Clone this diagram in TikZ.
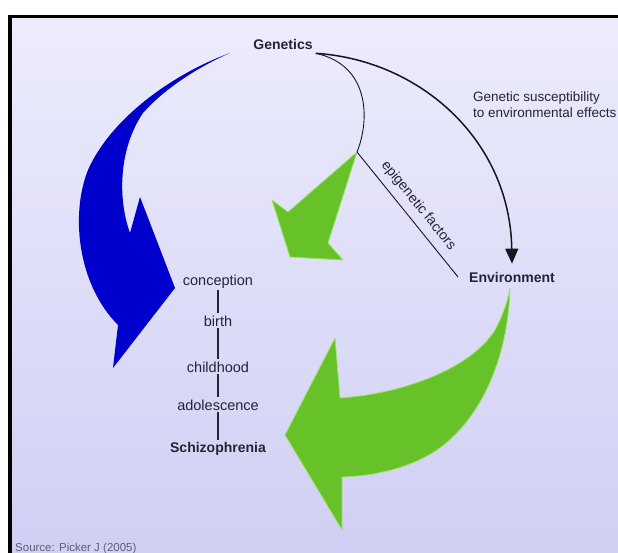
\documentclass[tikz,border=0pt]{standalone}
\usepackage{fontspec}
\setmainfont{Liberation Sans}
\usetikzlibrary{arrows.meta}
\definecolor{bgtop}{RGB}{236,236,252}
\definecolor{bgbottom}{RGB}{208,207,244}
\definecolor{arrowblue}{RGB}{0,0,205}
\definecolor{arrowgreen}{RGB}{102,194,40}
\definecolor{greenrim}{RGB}{160,225,110}
\definecolor{labeltext}{RGB}{36,36,52}
\definecolor{sourcetext}{RGB}{95,95,115}

\begin{document}
\begin{tikzpicture}[x=1pt, y=-1pt, line join=round,
    lbl/.style={text=labeltext, inner sep=3pt, font=\fontsize{14}{16}\selectfont},
    boldlbl/.style={lbl, font=\fontsize{14}{16}\selectfont\bfseries},
    stage/.style={lbl, inner sep=2pt, font=\fontsize{14.5}{16}\selectfont},
    stagebar/.style={draw=labeltext, line width=1.6pt},
    greenarrow/.style={fill=arrowgreen, draw=greenrim, line width=0.8pt}]
    \useasboundingbox (0,0) rectangle (618,553);
    \fill[black] (8,15) rectangle (618,553);
    \shade[top color=bgtop, bottom color=bgbottom] (12,19) rectangle (618,553);

    \coordinate (epi) at (357,152);

    \fill[arrowblue] (230,53) .. controls (170,75) and (110,120) .. (88,170)
        .. controls (70,215) and (78,285) .. (118,325) -- (113,368) -- (175,288)
        -- (140,197) -- (130,233) .. controls (118,200) and (118,150) .. (143,113)
        .. controls (165,88) and (200,66) .. (230,53) -- cycle;
    \filldraw[greenarrow] (epi) -- (288,212) -- (272,200) -- (290,257) -- (343,260) -- (328,243) -- cycle;
    \filldraw[greenarrow] (510,288) .. controls (508,360) and (480,420) .. (437,450)
        .. controls (410,468) and (375,476) .. (342,477) -- (342,530) -- (285,435)
        -- (335,338) -- (340,398) .. controls (400,394) and (470,370) .. (495,330)
        .. controls (503,315) and (508,300) .. (510,288) -- cycle;

    \node[boldlbl, anchor=base] (genetics) at (283,50) {Genetics};
    \node[boldlbl, anchor=base] (environment) at (512,282) {Environment};
    \node[lbl, anchor=west, align=left, font=\fontsize{13.5}{16}\selectfont] (suscept) at (470,104.5)
        {Genetic susceptibility\\to environmental effects};

    \node[stage, anchor=base] (conception) at (218,285) {conception};
    \node[stage, anchor=base] (birth) at (218,326) {birth};
    \node[stage, anchor=base] (childhood) at (218,372) {childhood};
    \node[stage, anchor=base] (adolescence) at (218,410) {adolescence};
    \node[stage, anchor=base, font=\fontsize{14}{16}\selectfont\bfseries] (schizo) at (218,452) {Schizophrenia};
    \draw[stagebar] (conception) -- (birth);
    \draw[stagebar] (birth) -- (childhood);
    \draw[stagebar] (childhood) -- (adolescence);
    \draw[stagebar] (adolescence) -- (schizo);

    \draw[labeltext!60!black, line width=1.5pt, -{Triangle[width=13pt,length=15pt]}]
        (genetics.south east) .. controls (420,60) and (510,140) .. ([yshift=5pt]environment.north);
    \draw[labeltext!60!black, line width=0.9pt] (genetics.south east) .. controls (370,65) and (370,120) .. (epi)
        -- node[lbl, sloped, above=4pt] {epigenetic factors} ([xshift=-8pt]environment.west);

    \node[anchor=base west, text=sourcetext, inner sep=0pt, font=\fontsize{11.5}{13}\selectfont] (source)
        at (15,551) {Source: Picker J (2005)};
\end{tikzpicture}
\end{document}
